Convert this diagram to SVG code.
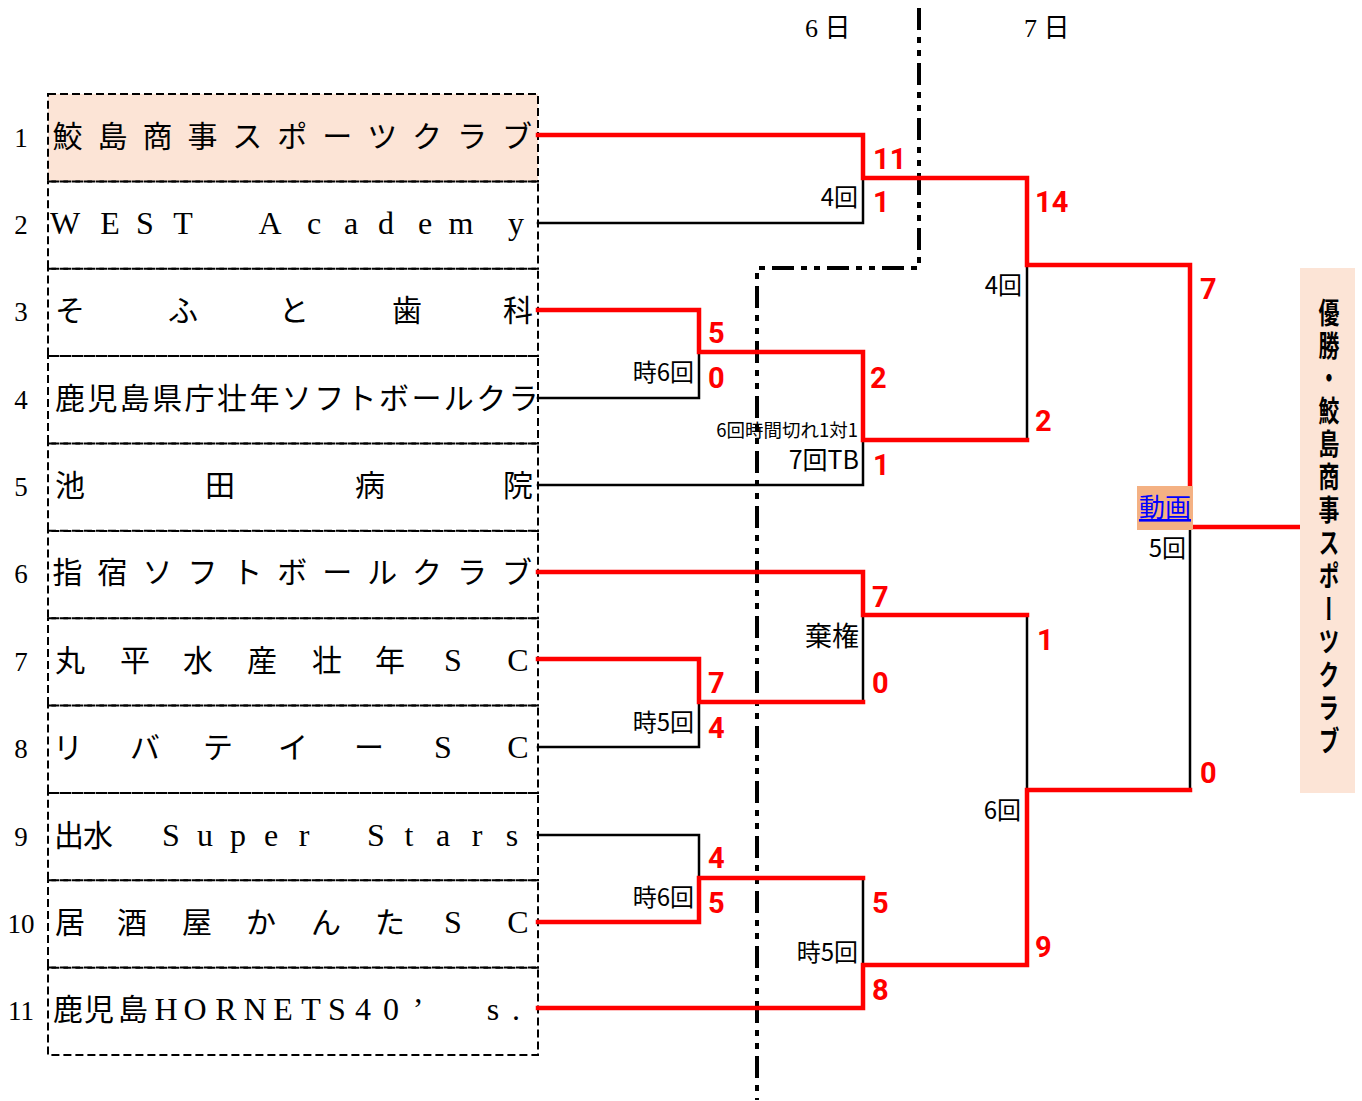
<svg xmlns="http://www.w3.org/2000/svg" width="1362" height="1101" viewBox="0 0 1362 1101">
<style>
.row{fill:none;stroke:#000;stroke-width:2;stroke-dasharray:8 4}
.num{font-family:"Liberation Serif","Noto Sans CJK JP",serif;font-size:27px;text-anchor:middle;fill:#000}
.team{font-family:"Liberation Serif","Noto Sans CJK JP",serif;font-size:30px;text-anchor:middle;fill:#000}
.lat{font-size:32px}
.red{fill:none;stroke:#ff0000;stroke-width:4.5;stroke-linejoin:miter;stroke-linecap:square}
.blk{fill:none;stroke:#000;stroke-width:2.5;stroke-linecap:square}
.dd{fill:none;stroke:#000;stroke-width:4;stroke-dasharray:22 7 6 7 6 7}
.sc{font-family:Roboto,"Noto Sans",sans-serif;font-weight:bold;font-size:29px;fill:#ff0000}
.lbl{font-family:"Noto Sans CJK JP",sans-serif;font-size:24px;text-anchor:end;fill:#000}
.date{font-family:"Liberation Serif","Noto Sans CJK JP",serif;font-size:26px;fill:#000}
</style>

<g id="dates">
<text class="date" x="805" y="37">6 日</text>
<text class="date" x="1024" y="37">7 日</text>
</g>

<g id="team1">
<rect class="row" x="48" y="94" width="490" height="87.4" style="fill:#fce4d6"/>
<text class="num" x="21" y="147">1</text>
<text class="team" x="67.5 112.5 157.4 202.4 247.3 292.3 337.2 382.2 427.1 472.1 517" y="147">鮫島商事スポーツクラブ</text>
</g>
<g id="team2">
<rect class="row" x="48" y="181.4" width="490" height="87.4"/>
<text class="num" x="21" y="234">2</text>
<text class="team lat" x="65 110 145 183 226 270 314 351 386 425 461 516" y="234">WEST Academy</text>
</g>
<g id="team3">
<rect class="row" x="48" y="268.7" width="490" height="87.4"/>
<text class="num" x="21" y="321">3</text>
<text class="team" x="70 183 294 407 518" y="321">そふと歯科</text>
</g>
<g id="team4">
<rect class="row" x="48" y="356.1" width="490" height="87.4"/>
<text class="num" x="21" y="409">4</text>
<text class="team" x="70 102.4 134.8 167.2 199.6 232 264.4 296.8 329.2 361.6 394 426.4 458.8 491.2 523.6" y="409">鹿児島県庁壮年ソフトボールクラ</text>
</g>
<g id="team5">
<rect class="row" x="48" y="443.5" width="490" height="87.4"/>
<text class="num" x="21" y="496">5</text>
<text class="team" x="70 220 370 518" y="496">池田病院</text>
</g>
<g id="team6">
<rect class="row" x="48" y="530.8" width="490" height="87.4"/>
<text class="num" x="21" y="583">6</text>
<text class="team" x="67.5 112.5 157.4 202.4 247.3 292.3 337.2 382.2 427.1 472.1 517" y="583">指宿ソフトボールクラブ</text>
</g>
<g id="team7">
<rect class="row" x="48" y="618.2" width="490" height="87.4"/>
<text class="num" x="21" y="671">7</text>
<text class="team" x="70 135 198 262 327 390 453 518" y="671">丸平水産壮年<tspan class="lat">SC</tspan></text>
</g>
<g id="team8">
<rect class="row" x="48" y="705.6" width="490" height="87.4"/>
<text class="num" x="21" y="758">8</text>
<text class="team" x="68 145 218 293 369 443 518" y="758">リバテイー<tspan class="lat">SC</tspan></text>
</g>
<g id="team9">
<rect class="row" x="48" y="792.9" width="490" height="87.4"/>
<text class="num" x="21" y="846">9</text>
<text class="team" x="69 98 135 171 205 238 271 304 340 376 409 443 477 512" y="846">出水<tspan class="lat"> Super Stars</tspan></text>
</g>
<g id="team10">
<rect class="row" x="48" y="880.3" width="490" height="87.4"/>
<text class="num" x="21" y="933">10</text>
<text class="team" x="70 132 197 261 326 390 453 518" y="933">居酒屋かんた<tspan class="lat">SC</tspan></text>
</g>
<g id="team11">
<rect class="row" x="48" y="967.6" width="490" height="87.4"/>
<text class="num" x="21" y="1020">11</text>
<text class="team" x="68 99 133 166 195 226 255 283 311 337 363 391 418 493 516" y="1020">鹿児島<tspan class="lat">HORNETS40’s.</tspan></text>
</g>

<g id="connectors">
<path class="dd" d="M919,8 V268 H757 V1100"/>
<path class="blk" d="M538,223 H863 V178"/>
<path class="blk" d="M538,398 H699 V352"/>
<path class="blk" d="M538,485 H863 V440"/>
<path class="blk" d="M863,615 V702"/>
<path class="blk" d="M538,747 H699 V702"/>
<path class="blk" d="M538,835 H699 V878"/>
<path class="blk" d="M863,878 V965"/>
<path class="blk" d="M1027,265 V440"/>
<path class="blk" d="M1027,615 V790"/>
<path class="blk" d="M1190,527 V790"/>
<path class="red" d="M538,135 H863 V178 H1027 V265 H1190 V527 H1300"/>
<path class="red" d="M538,310 H699 V352 H863 V440 H1027"/>
<path class="red" d="M538,572 H863 V615 H1027"/>
<path class="red" d="M538,659 H699 V702 H863"/>
<path class="red" d="M538,922 H699 V878 H863"/>
<path class="red" d="M538,1008 H863 V965 H1027 V790 H1190"/>
</g>

<g id="scores">
<text class="sc" x="873" y="169">11</text>
<text class="sc" x="873" y="212">1</text>
<text class="sc" x="708" y="343">5</text>
<text class="sc" x="708" y="388">0</text>
<text class="sc" x="870" y="388">2</text>
<text class="sc" x="873" y="475">1</text>
<text class="sc" x="872" y="607">7</text>
<text class="sc" x="872" y="693">0</text>
<text class="sc" x="708" y="693">7</text>
<text class="sc" x="708" y="738">4</text>
<text class="sc" x="708" y="868">4</text>
<text class="sc" x="708" y="913">5</text>
<text class="sc" x="872" y="913">5</text>
<text class="sc" x="872" y="1000">8</text>
<text class="sc" x="1035" y="212">14</text>
<text class="sc" x="1035" y="431">2</text>
<text class="sc" x="1037" y="650">1</text>
<text class="sc" x="1035" y="957">9</text>
<text class="sc" x="1200" y="299">7</text>
<text class="sc" x="1200" y="783">0</text>
</g>

<g id="labels">
<text class="lbl" x="858" y="206">4回</text>
<text class="lbl" x="1022" y="294">4回</text>
<text class="lbl" x="694" y="381">時6回</text>
<text class="lbl" x="858" y="437" style="font-size:18.5px">6回時間切れ1対1</text>
<text class="lbl" x="859" y="469" style="font-size:25px">7回TB</text>
<text class="lbl" x="859" y="646" style="font-size:27px">棄権</text>
<text class="lbl" x="694" y="731">時5回</text>
<text class="lbl" x="1021" y="819">6回</text>
<text class="lbl" x="694" y="906">時6回</text>
<text class="lbl" x="858" y="961">時5回</text>
<text class="lbl" x="1186" y="557">5回</text>
</g>

<g id="video">
<rect x="1137" y="486" width="56" height="44" fill="#f4b183"/>
<text x="1165" y="517" style="font-family:'Noto Sans CJK JP',sans-serif;font-size:26px;text-anchor:middle;fill:#0000ff;text-decoration:underline">動画</text>
</g>

<g id="champion">
<rect x="1300" y="268" width="55" height="525" fill="#fce4d6"/>
<text x="0" y="0" transform="translate(1329,298) scale(0.72,1)" style="font-family:'Noto Sans CJK JP',sans-serif;font-size:29px;font-weight:bold;writing-mode:vertical-rl;fill:#000" letter-spacing="4">優勝・鮫島商事スポーツクラブ</text>
</g>
</svg>
